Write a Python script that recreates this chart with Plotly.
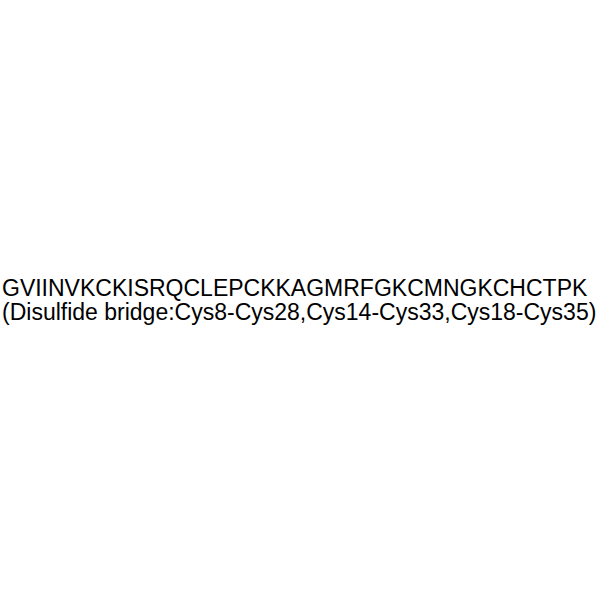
import plotly.graph_objects as go

lines = [
    "GVIINVKCKISRQCLEPCKKAGMRFGKCMNGKCHCTPK",
    "(Disulfide bridge:Cys8-Cys28,Cys14-Cys33,Cys18-Cys35)",
]
line_y_px = [288, 312]  # vertical centres in pixels from top of figure
left_px = 0

fig = go.Figure()
for txt, ypx in zip(lines, line_y_px):
    fig.add_annotation(
        text=txt, x=left_px / 600, y=1 - ypx / 600, xref="paper", yref="paper",
        xanchor="left", yanchor="middle", showarrow=False,
        font=dict(family="Liberation Sans, Arial", size=23, color="black"),
    )
fig.update_layout(
    width=600, height=600, margin=dict(l=0, r=0, t=0, b=0),
    paper_bgcolor="white", plot_bgcolor="white",
    xaxis=dict(visible=False), yaxis=dict(visible=False),
)
fig.write_html("out.html", config={"displayModeBar": False},
               post_script="document.body.style.margin='0';")
